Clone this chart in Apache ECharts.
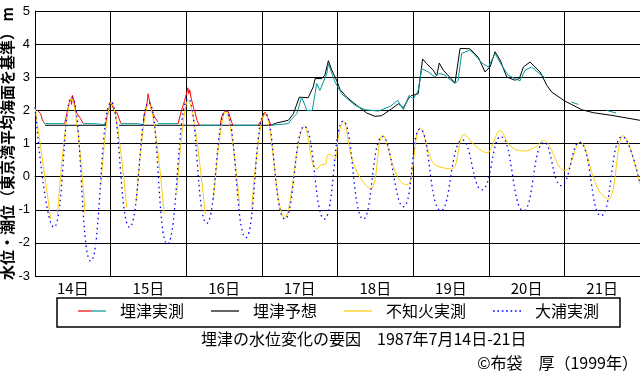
<!DOCTYPE html>
<html><head><meta charset="utf-8">
<script src="https://cdn.jsdelivr.net/npm/echarts@6/dist/echarts.min.js"></script>
<style>html,body{margin:0;padding:0;background:#fff}#c{width:640px;height:374px}</style>
</head><body><div id="c"></div>
<script>
// x = hours since 1987-07-14 00:00, y = metres (T.P.)
const days = ['14日','15日','16日','17日','18日','19日','20日','21日'];
const seriesNames = ['埋津実測','埋津予想','不知火実測','大浦実測'];
const titleText = '埋津の水位変化の要因　1987年7月14日-21日';
const creditText = '©布袋　厚（1999年）';
const yName = '水位・潮位（東京湾平均海面を基準） m';

// 埋津実測 — tide-dominated part (red)
const umezuTide = [
 [0.8,2.0],[1.8,1.9],[2.3,1.72],[2.9,1.62],[6,null],
 [9.4,1.6],[9.7,1.72],[10.2,1.95],[10.8,2.2],[11.3,2.35],[11.6,2.18],[11.9,2.45],[12.4,2.28],[12.9,2.0],[13.4,1.9],[14.5,1.75],[15.2,1.62],[18,null],
 [22.4,1.57],[22.8,1.8],[23.5,2.05],[23.8,2.25],[24.0,2.3],[24.5,2.15],[25.1,2.0],[25.9,1.95],[26.7,1.75],[27.2,1.62],[30,null],
 [34.4,1.6],[34.6,1.85],[35.1,2.0],[35.6,2.25],[35.9,2.5],[36.4,2.25],[36.9,2.05],[37.4,1.9],[38.3,1.75],[39.0,1.65],[42,null],
 [45.4,1.6],[46.5,2.0],[47.5,2.3],[48.2,2.55],[48.5,2.68],[48.8,2.5],[49.1,2.62],[49.6,2.35],[50.4,2.05],[50.8,1.95],[51.4,1.7],[52.2,1.55],[55,null],
 [58.8,1.55],[59.2,1.8],[60.3,1.98],[61.3,1.97],[62.4,1.65],[62.8,1.55],[66,null],
 [70.8,1.55],[71.9,1.7],[73.0,1.95],[74.0,1.75],[74.9,1.55]
];
// 埋津実測 — river-dominated part (teal)
const umezuObs = [
 [2.9,1.6],[9.4,1.6],[12,null],
 [15.2,1.6],[18.5,1.6],[18.7,1.57],[22.4,1.57],[25,null],
 [27.2,1.6],[32.5,1.6],[32.7,1.57],[34.4,1.57],[36,null],
 [39.0,1.6],[45.4,1.6],[48,null],
 [52.2,1.55],[58.8,1.55],[60,null],
 [62.8,1.55],[70.8,1.55],[72,null],
 [74.9,1.55],[80.4,1.6],[81.5,1.75],[83.1,1.9],[84.6,2.4],[85.7,2.15],[86.2,2.0],[88.0,2.0],[89.4,2.81],[90.4,2.6],[92.6,3.11],[93.1,3.41],[94.2,3.11],[95.2,2.86],[97.3,2.5],[101.6,2.15],[104.7,2.02],[109.0,1.98],[112.7,2.12],[115.1,2.3],[116.9,2.02],[118.7,2.45],[120.1,2.35],[121.6,2.6],[122.7,3.26],[124.8,3.16],[126.9,3.01],[128.0,3.11],[129.6,3.09],[133.3,2.81],[134.3,2.91],[135.4,3.72],[138.0,3.82],[139.1,3.72],[141.8,3.43],[143.9,3.31],[146.0,3.72],[148.1,3.36],[150.2,3.06],[152.3,2.96],[153.9,2.89],[155.5,3.21],[157.6,3.31],[160.8,3.06],[161.9,2.98],[165,null],
 [170.3,2.25],[172.4,2.18],[176,null],
 [181.4,2.0],[184.4,1.92]
];
// 埋津予想 (black)
const umezuPred = [
 [3.2,1.55],[22.5,1.55],[24,null],[26.7,1.55],[74.9,1.55],[76.7,1.62],[80.4,1.7],[82.0,1.9],[82.5,1.95],[83.9,2.4],[86.7,2.38],[88.3,2.71],[88.9,2.96],[91.0,2.96],[92.0,3.06],[93.1,3.5],[94.2,3.21],[95.7,2.91],[96.8,2.63],[98.9,2.4],[102.1,2.15],[105.3,1.92],[107.9,1.82],[110.0,1.84],[113.2,2.05],[115.3,2.2],[116.9,2.08],[118.5,2.35],[119.5,2.45],[121.6,2.5],[123.0,3.55],[124.3,3.41],[126.4,3.21],[127.5,3.04],[128.3,3.43],[129.6,3.21],[133.3,2.83],[134.9,3.87],[138.0,3.86],[140.7,3.6],[142.8,3.16],[144.4,3.31],[146.0,3.77],[147.6,3.52],[149.7,3.01],[152.3,2.91],[153.7,2.96],[155.0,3.31],[157.1,3.46],[160.3,3.16],[162.4,2.76],[164.0,2.55],[168.2,2.28],[173.5,2.02],[177.2,1.93],[183.0,1.85],[192,1.7]
];
// 不知火実測 (yellow)
const shiranui = [
 [0,2.1],[5.0,-1.28],[6,null],[7.1,-1.18],[11.6,2.35],[15.9,-1.13],[18,null],[20.9,-0.27],[24.2,2.25],[29.1,-0.93],[30.5,null],[32.1,-0.78],[36.1,2.2],[41.0,-1.13],[43,null],[45.0,-0.5],[48.6,2.3],[54.0,-1.13],[55,null],[56.6,-0.73],[60.5,1.98],[65.0,-0.93],[67,null],[68.8,-0.93],[73.0,1.92],[79.2,-1.25],[85.5,1.52],[88.3,0.33],[89.4,0.23],[91.0,0.36],[92.0,0.36],[93.1,0.67],[94.2,0.64],[95.2,0.54],[96.3,1.19],[97.8,1.68],[100.5,0.58],[103.1,-0.02],[106.6,-0.37],[110.3,1.25],[114.2,0.18],[116.9,-0.22],[118.3,-0.24],[122.2,1.47],[125.9,0.48],[127.5,0.33],[132.2,0.23],[136.2,1.27],[139.6,0.94],[143.4,0.72],[147.6,1.39],[150.7,0.94],[155.0,0.77],[158.7,0.89],[161.3,1.09],[166.6,0.28],[168.2,0.18],[173.0,1.04],[177.2,-0.02],[179.3,-0.47],[182.0,-0.68],[186.7,1.24],[192,-0.22]
];
// 大浦実測 (blue dotted)
const oura = [
 [0,2.1],[6.0,-1.53],[11.6,2.4],[17.7,-2.55],[24.2,2.25],[30.0,-1.53],[36.1,2.24],[42.0,-2.04],[48.6,2.35],[54.5,-1.41],[60.5,1.98],[66.9,-1.84],[73.0,1.92],[79.3,-1.28],[85.5,1.52],[91.8,-1.28],[97.8,1.68],[104.2,-1.28],[110.3,1.21],[116.9,-0.91],[122.2,1.44],[128.8,-1.03],[135.7,1.11],[141.8,-0.40],[147.8,1.21],[155.0,-1.03],[161.6,1.04],[167.0,-0.27],[172.7,1.04],[179.6,-1.18],[186.4,1.21],[192,-0.22]
];

const CJK = '"Noto Sans CJK JP", sans-serif';
const black = '#000000', teal = '#009999', red = '#ff0000', gold = '#ffcc00', blue = '#0000ff';
const solidIcon = 'path://M0,0H28V1.2H0Z';
const dotIcon = 'path://M0,0h1.5v1.5h-1.5zM4,0h1.5v1.5h-1.5zM8,0h1.5v1.5h-1.5zM12,0h1.5v1.5h-1.5zM16,0h1.5v1.5h-1.5zM20,0h1.5v1.5h-1.5zM24,0h1.5v1.5h-1.5z';
const splitGradient = {type:'linear',x:0,y:0,x2:1,y2:0,colorStops:[{offset:0,color:red},{offset:0.5,color:red},{offset:0.5,color:teal},{offset:1,color:teal}]};

const chart = echarts.init(document.getElementById('c'), null, {renderer:'canvas'});
const line = (name, data, color, extra) => Object.assign({
  type:'line', name, data, showSymbol:false, symbol:'none', connectNulls:false,
  lineStyle:{color, width:1}, itemStyle:{color}, emphasis:{disabled:true}
}, extra || {});

chart.setOption({
  animation:false,
  textStyle:{fontFamily:CJK},
  grid:{left:35, right:0, top:11, bottom:98, containLabel:false, outerBoundsMode:'none'},
  xAxis:[
    {type:'value', min:0, max:192, interval:24,
     axisLine:{show:true, lineStyle:{color:black, width:1}}, axisTick:{show:false}, axisLabel:{show:false},
     splitLine:{show:true, lineStyle:{color:black, width:1}}},
    {type:'category', data:days, position:'bottom', boundaryGap:true,
     axisLine:{show:false}, axisTick:{show:false}, splitLine:{show:false},
     axisLabel:{fontSize:15, color:black, margin:5, fontFamily:CJK}}
  ],
  yAxis:{type:'value', min:-3, max:5, interval:1,
    axisLine:{show:true, lineStyle:{color:black, width:1}}, axisTick:{show:false},
    axisLabel:{fontSize:13, color:black, margin:5, fontFamily:'"Liberation Sans", Arial, sans-serif'},
    splitLine:{show:true, lineStyle:{color:black, width:1}},
    name:yName, nameLocation:'middle', nameRotate:90, nameGap:20, nameMoveOverlap:false,
    nameTextStyle:{fontSize:15, fontWeight:'bold', color:black, fontFamily:CJK}},
  legend:{left:78, top:303, padding:0, itemWidth:28, itemHeight:10, itemGap:27,
    selectedMode:false,
    textStyle:{fontSize:16, color:black, fontFamily:CJK, padding:[0,0,0,9]},
    data:[
      {name:seriesNames[0], icon:solidIcon, itemStyle:{color:splitGradient, borderWidth:0}},
      {name:seriesNames[1], icon:solidIcon, itemStyle:{color:black, borderWidth:0}},
      {name:seriesNames[2], icon:solidIcon, itemStyle:{color:gold, borderWidth:0}},
      {name:seriesNames[3], icon:dotIcon, itemStyle:{color:blue, borderWidth:0}}
    ]},
  title:[
    {text:titleText, left:201, top:331, padding:0, textStyle:{fontSize:16, fontWeight:'normal', color:black, fontFamily:CJK}},
    {text:creditText, right:2, top:355, padding:0, textStyle:{fontSize:16, fontWeight:'normal', color:black, fontFamily:CJK}}
  ],
  graphic:[{type:'rect', silent:true, shape:{x:57, y:298, width:563, height:29},
    style:{fill:'none', stroke:black, lineWidth:1.5}}],
  series:[
    line(seriesNames[1], umezuPred, black),
    line(seriesNames[0], umezuObs, teal),
    line(seriesNames[0], umezuTide, red),
    line(seriesNames[2], shiranui, gold, {smooth:0.4}),
    line(seriesNames[3], oura, blue, {smooth:0.5, lineStyle:{color:blue, width:1.3, type:[1.5,3.5]}})
  ]
});
</script></body></html>
